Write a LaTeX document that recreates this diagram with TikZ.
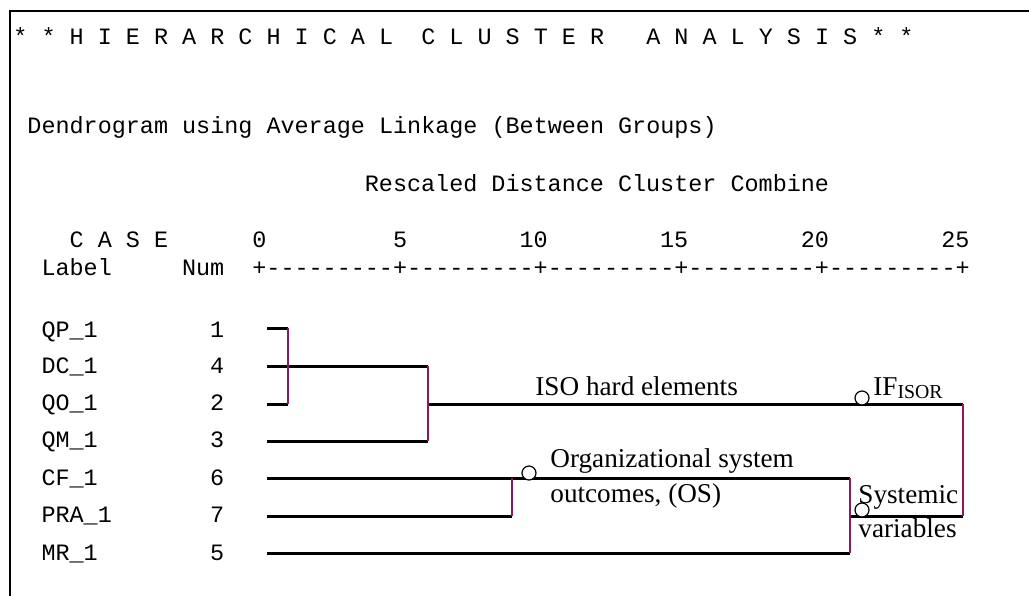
\documentclass[tikz,border=0pt]{standalone}
\usepackage{fontspec}
\setmainfont{Liberation Serif}
\setmonofont{Liberation Mono}
\usepackage{xcolor}
\definecolor{vline}{RGB}{140,25,95}

\begin{document}
\begin{tikzpicture} [x=0.5pt, y=-0.5pt,
    spss/.style={anchor=base west,inner sep=0pt,font=\fontsize{11.72}{14}\ttfamily},
    note/.style={anchor=base west,inner sep=0pt,font=\fontsize{13.6}{16}\selectfont},
    hline/.style={line width=1.5pt},
    vlink/.style={color=vline,line width=0.75pt},
    knot/.style={circle,draw,fill=white,inner sep=0pt,minimum size=7pt,line width=0.6pt} ]
  \useasboundingbox (0,0) rectangle (1029,596);
  \draw[line width=1.25pt] (1029,11) -| (10,596);
  % SPSS text
  \node[spss] (title) at (13,44) {*~*~H~I~E~R~A~R~C~H~I~C~A~L~~C~L~U~S~T~E~R~~~A~N~A~L~Y~S~I~S~*~*};
  \node[spss] (method) at (27.06,133) {Dendrogram using Average Linkage (Between Groups)};
  \node[spss] (scale) at (364.5,191) {Rescaled Distance Cluster Combine};
  \node[spss] (case) at (69.24,247) {C~A~S~E};
  \foreach \v/\c in {0/17,5/27,10/36,15/46,20/56,25/66}
    \node[spss] (tick\v) at ({13+14.06*\c},247) {\v};
  \node[spss] (label) at (41.12,275) {Label};
  \node[spss] (num) at (181.72,275) {Num};
  \node[spss] (axis) at (252.02,275) {+---------+---------+---------+---------+---------+};
  \foreach \lab/\n/\y in {QP\_1/1/337,DC\_1/4/373,QO\_1/2/410,QM\_1/3/447,
                          CF\_1/6/485,PRA\_1/7/522,MR\_1/5/560}{
    \node[spss] (lab\n) at (41.12,\y) {\lab};
    \node[spss] (num\n) at (209.84,\y) {\n};
  }
  % leaves and joins
  \coordinate (qp) at (267,328);  \coordinate (dc) at (267,366);
  \coordinate (qo) at (267,404);  \coordinate (qm) at (267,441);
  \coordinate (cf) at (267,478);  \coordinate (pra) at (267,516);
  \coordinate (mr) at (267,553);
  \coordinate (j1a) at (288,328); \coordinate (j1b) at (288,404);
  \coordinate (j2a) at (428,366); \coordinate (j2b) at (428,441);
  \coordinate (j2m) at (428,404);
  \coordinate (j3a) at (512,478); \coordinate (j3b) at (512,516);
  \coordinate (j4a) at (850,478); \coordinate (j4b) at (850,553);
  \coordinate (j4m) at (850,516);
  \coordinate (j5a) at (963,404); \coordinate (j5b) at (963,516);
  \path[hline]
  (qp) edge (j1a)  (qo) edge (j1b)
  (dc) edge (j2a)  (qm) edge (j2b)
  (j2m) edge (j5a)
  (cf) edge (j4a)  (pra) edge (j3b)
  (mr) edge (j4b)  (j4m) edge (j5b)
  ;
  \path[vlink]
  (j1a) edge (j1b)  (j2a) edge (j2b)
  (j3a) edge (j3b)  (j4a) edge (j4b)
  (j5a) edge (j5b)
  ;
  % cluster notes
  \node[knot] (isor) at (862,398) {};
  \node[knot] (os) at (529,473) {};
  \node[knot] (sysv) at (862,510) {};
  \node[note] (isolab) at (535,395) {ISO hard elements};
  \node[note] (iflab) at (873,395) {IF\raisebox{-1.5pt}{\fontsize{9.9}{11}\selectfont ISOR}};
  \node[note] (oslab) at (550,467) {Organizational system};
  \node[note] (oslab2) at (550,502) {outcomes, (OS)};
  \node[note] (syslab) at (858,503) {Systemic};
  \node[note] (syslab2) at (858,537) {variables};
\end{tikzpicture}
\end{document}
